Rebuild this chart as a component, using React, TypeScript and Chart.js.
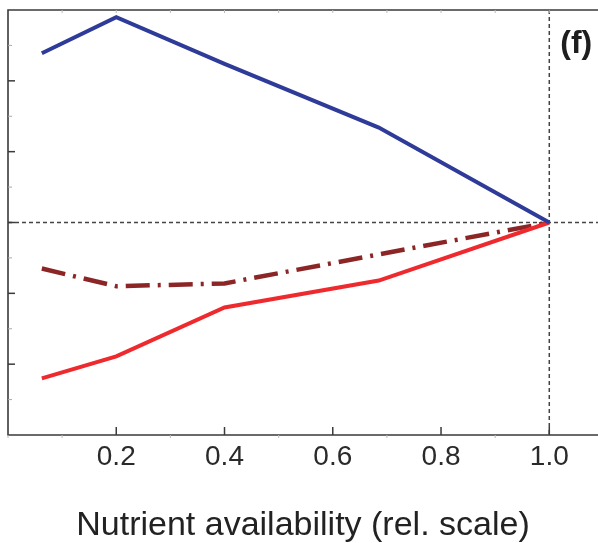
import React, { useEffect, useRef } from "react";
import { Chart, registerables } from "chart.js";

Chart.register(...registerables);

const nutrientLevels = [0.0625, 0.2, 0.4, 0.685, 1.0];
const blueSeries = [2.39, 2.9, 2.24, 1.34, 0];
const redSeries = [-2.2, -1.89, -1.2, -0.82, 0];
const darkRedSeries = [-0.65, -0.9, -0.86, -0.45, 0];
const xTickValues = [0.2, 0.4, 0.6, 0.8, 1.0];
const xMinorTicks = [0.1, 0.3, 0.5, 0.7, 0.9];
const yMajorTicks = [-2, -1, 0, 1, 2];
const yMinorTicks = [-2.5, -1.5, -0.5, 0.5, 1.5, 2.5];
const panelLabel = "(f)";
const xAxisTitle = "Nutrient availability (rel. scale)";

const toPoints = (ys: number[]) => nutrientLevels.map((x, i) => ({ x, y: ys[i] }));

const decorPlugin = {
  id: "decor",
  beforeDatasetsDraw(chart: any) {
    const { ctx, chartArea } = chart;
    const xs = chart.scales.x;
    const ys = chart.scales.y;
    ctx.save();
    ctx.strokeStyle = "#444";
    ctx.lineWidth = 1.5;
    ctx.setLineDash([4, 3]);
    const y0 = ys.getPixelForValue(0);
    ctx.beginPath();
    ctx.moveTo(chartArea.left, y0);
    ctx.lineTo(chartArea.right, y0);
    ctx.stroke();
    const x1 = xs.getPixelForValue(1.0);
    ctx.beginPath();
    ctx.moveTo(x1, chartArea.top);
    ctx.lineTo(x1, chartArea.bottom);
    ctx.stroke();
    ctx.restore();
  },
  afterDraw(chart: any) {
    const { ctx, chartArea } = chart;
    const xs = chart.scales.x;
    const ys = chart.scales.y;
    ctx.save();
    ctx.setLineDash([]);
    ctx.strokeStyle = "#3a3a3a";
    ctx.lineWidth = 1.6;
    ctx.beginPath();
    ctx.moveTo(chartArea.right, chartArea.top);
    ctx.lineTo(chartArea.left, chartArea.top);
    ctx.lineTo(chartArea.left, chartArea.bottom);
    ctx.lineTo(chartArea.right, chartArea.bottom);
    ctx.stroke();
    ctx.lineWidth = 1.5;
    yMajorTicks.forEach((v) => {
      const p = ys.getPixelForValue(v);
      ctx.beginPath();
      ctx.moveTo(chartArea.left, p);
      ctx.lineTo(chartArea.left + 7, p);
      ctx.stroke();
    });
    ctx.strokeStyle = "#aaa";
    ctx.lineWidth = 1;
    yMinorTicks.forEach((v) => {
      const p = ys.getPixelForValue(v);
      ctx.beginPath();
      ctx.moveTo(chartArea.left, p);
      ctx.lineTo(chartArea.left + 4, p);
      ctx.stroke();
    });
    ctx.strokeStyle = "#3a3a3a";
    ctx.lineWidth = 1.5;
    xTickValues.forEach((v) => {
      const p = xs.getPixelForValue(v);
      ctx.beginPath();
      ctx.moveTo(p, chartArea.bottom);
      ctx.lineTo(p, chartArea.bottom - 8);
      ctx.stroke();
    });
    ctx.strokeStyle = "#bbb";
    ctx.lineWidth = 1;
    [0, ...xMinorTicks].forEach((v) => {
      const p = xs.getPixelForValue(v);
      ctx.beginPath();
      ctx.moveTo(p, chartArea.bottom);
      ctx.lineTo(p, chartArea.bottom + 3);
      ctx.stroke();
    });
    [...xMinorTicks, ...xTickValues].forEach((v) => {
      const p = xs.getPixelForValue(v);
      ctx.beginPath();
      ctx.moveTo(p, chartArea.top);
      ctx.lineTo(p, chartArea.top + 3);
      ctx.stroke();
    });
    ctx.fillStyle = "#1e1e1e";
    ctx.font = "bold 32px 'Liberation Sans', Arial, sans-serif";
    ctx.textAlign = "left";
    ctx.textBaseline = "middle";
    ctx.fillText(panelLabel, xs.getPixelForValue(1.0) + 11, chartArea.top + 34);
    ctx.restore();
  },
};

export default function App() {
  const ref = useRef<HTMLCanvasElement | null>(null);
  useEffect(() => {
    if (!ref.current) return;
    const chart = new Chart(ref.current, {
      type: "line",
      data: {
        datasets: [
          {
            data: toPoints(blueSeries),
            borderColor: "#2f3b98",
            borderWidth: 4,
            pointRadius: 0,
            tension: 0,
          },
          {
            data: toPoints(redSeries),
            borderColor: "#ee2a2e",
            borderWidth: 4,
            pointRadius: 0,
            tension: 0,
          },
          {
            data: toPoints(darkRedSeries),
            borderColor: "#8c2626",
            borderWidth: 4.5,
            borderDash: [24, 8, 3, 8],
            pointRadius: 0,
            tension: 0,
          },
        ],
      },
      options: {
        animation: false,
        responsive: false,
        devicePixelRatio: 1,
        layout: { padding: { left: 8, top: 10, right: 0, bottom: 0 } },
        plugins: { legend: { display: false }, tooltip: { enabled: false } },
        scales: {
          x: {
            type: "linear",
            min: 0,
            max: 1.09,
            grid: { display: false, drawTicks: false, tickLength: 0 },
            border: { display: false },
            afterFit: (scale: any) => {
              scale.height = 108;
            },
            afterBuildTicks: (scale: any) => {
              scale.ticks = xTickValues.map((v) => ({ value: v }));
            },
            ticks: {
              padding: 5,
              color: "#2a2a2a",
              font: { family: "'Liberation Sans', Arial, sans-serif", size: 28 },
              callback: (v: any) => Number(v).toFixed(1),
              maxRotation: 0,
              autoSkip: false,
            },
            title: {
              display: true,
              text: xAxisTitle,
              color: "#222",
              font: { family: "'Liberation Sans', Arial, sans-serif", size: 34, lineHeight: 1 },
              padding: { top: 0, bottom: 0 },
            },
          },
          y: {
            type: "linear",
            min: -3,
            max: 3,
            display: false,
          },
        },
      },
      plugins: [decorPlugin],
    });
    return () => chart.destroy();
  }, []);
  return (
    <div style={{ position: "absolute", left: 0, top: 0, width: 598, height: 543 }}>
      <canvas ref={ref} width={598} height={543} style={{ display: "block" }} />
    </div>
  );
}
